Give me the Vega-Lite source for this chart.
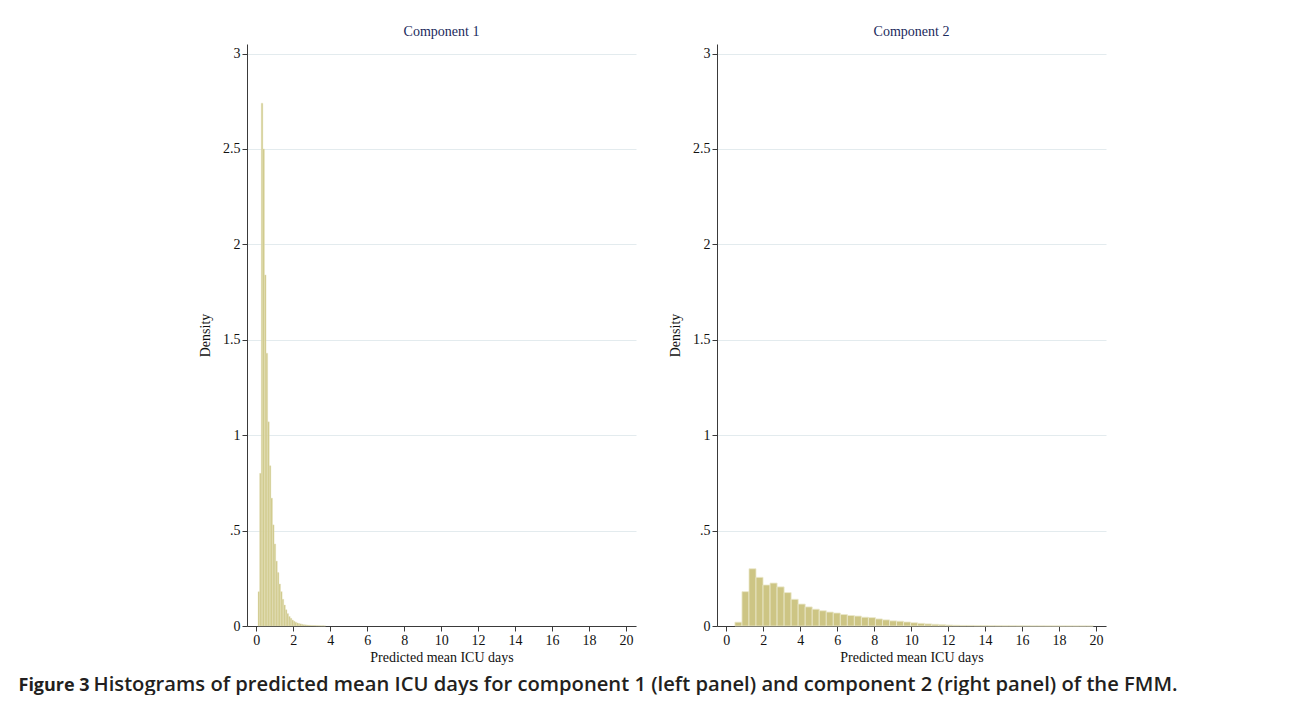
{
  "$schema": "https://vega.github.io/schema/vega-lite/v6.json",
  "background": "white",
  "padding": {"left": 18, "top": 25, "right": 0, "bottom": 0},
  "datasets": {
    "c1": [
      {"lo": 0.096, "hi": 0.183, "density": 0.18},
      {"lo": 0.183, "hi": 0.270, "density": 0.80},
      {"lo": 0.270, "hi": 0.357, "density": 2.74},
      {"lo": 0.357, "hi": 0.444, "density": 2.50},
      {"lo": 0.444, "hi": 0.531, "density": 1.84},
      {"lo": 0.531, "hi": 0.618, "density": 1.43},
      {"lo": 0.618, "hi": 0.705, "density": 1.07},
      {"lo": 0.705, "hi": 0.792, "density": 0.84},
      {"lo": 0.792, "hi": 0.879, "density": 0.67},
      {"lo": 0.879, "hi": 0.966, "density": 0.53},
      {"lo": 0.966, "hi": 1.053, "density": 0.43},
      {"lo": 1.053, "hi": 1.140, "density": 0.34},
      {"lo": 1.140, "hi": 1.227, "density": 0.28},
      {"lo": 1.227, "hi": 1.314, "density": 0.22},
      {"lo": 1.314, "hi": 1.401, "density": 0.18},
      {"lo": 1.401, "hi": 1.488, "density": 0.14},
      {"lo": 1.488, "hi": 1.575, "density": 0.11},
      {"lo": 1.575, "hi": 1.662, "density": 0.085},
      {"lo": 1.662, "hi": 1.749, "density": 0.065},
      {"lo": 1.749, "hi": 1.836, "density": 0.05},
      {"lo": 1.836, "hi": 1.923, "density": 0.04},
      {"lo": 1.923, "hi": 2.010, "density": 0.031},
      {"lo": 2.010, "hi": 2.097, "density": 0.025},
      {"lo": 2.097, "hi": 2.184, "density": 0.02},
      {"lo": 2.184, "hi": 2.271, "density": 0.016},
      {"lo": 2.271, "hi": 2.358, "density": 0.013},
      {"lo": 2.358, "hi": 2.445, "density": 0.011},
      {"lo": 2.445, "hi": 2.532, "density": 0.009},
      {"lo": 2.532, "hi": 2.619, "density": 0.007},
      {"lo": 2.619, "hi": 2.706, "density": 0.006},
      {"lo": 2.706, "hi": 2.793, "density": 0.005},
      {"lo": 2.793, "hi": 2.880, "density": 0.004},
      {"lo": 2.880, "hi": 2.967, "density": 0.0035},
      {"lo": 2.967, "hi": 3.054, "density": 0.003},
      {"lo": 3.054, "hi": 3.141, "density": 0.0025},
      {"lo": 3.141, "hi": 3.228, "density": 0.002},
      {"lo": 3.228, "hi": 3.315, "density": 0.0018},
      {"lo": 3.315, "hi": 3.402, "density": 0.0015},
      {"lo": 3.402, "hi": 3.489, "density": 0.0012},
      {"lo": 3.489, "hi": 3.576, "density": 0.001},
      {"lo": 3.576, "hi": 3.663, "density": 0.0008},
      {"lo": 3.663, "hi": 3.750, "density": 0.0006}
    ],
    "c2": [
      {"lo": 0.47, "hi": 0.85, "density": 0.02},
      {"lo": 0.85, "hi": 1.23, "density": 0.18},
      {"lo": 1.23, "hi": 1.61, "density": 0.30},
      {"lo": 1.61, "hi": 1.99, "density": 0.255},
      {"lo": 1.99, "hi": 2.37, "density": 0.215},
      {"lo": 2.37, "hi": 2.75, "density": 0.225},
      {"lo": 2.75, "hi": 3.13, "density": 0.205},
      {"lo": 3.13, "hi": 3.51, "density": 0.175},
      {"lo": 3.51, "hi": 3.89, "density": 0.14},
      {"lo": 3.89, "hi": 4.27, "density": 0.115},
      {"lo": 4.27, "hi": 4.65, "density": 0.10},
      {"lo": 4.65, "hi": 5.03, "density": 0.088},
      {"lo": 5.03, "hi": 5.41, "density": 0.08},
      {"lo": 5.41, "hi": 5.79, "density": 0.073},
      {"lo": 5.79, "hi": 6.17, "density": 0.068},
      {"lo": 6.17, "hi": 6.55, "density": 0.06},
      {"lo": 6.55, "hi": 6.93, "density": 0.055},
      {"lo": 6.93, "hi": 7.31, "density": 0.052},
      {"lo": 7.31, "hi": 7.69, "density": 0.046},
      {"lo": 7.69, "hi": 8.07, "density": 0.044},
      {"lo": 8.07, "hi": 8.45, "density": 0.037},
      {"lo": 8.45, "hi": 8.83, "density": 0.032},
      {"lo": 8.83, "hi": 9.21, "density": 0.027},
      {"lo": 9.21, "hi": 9.59, "density": 0.025},
      {"lo": 9.59, "hi": 9.97, "density": 0.021},
      {"lo": 9.97, "hi": 10.35, "density": 0.017},
      {"lo": 10.35, "hi": 10.73, "density": 0.014},
      {"lo": 10.73, "hi": 11.11, "density": 0.011},
      {"lo": 11.11, "hi": 11.49, "density": 0.009},
      {"lo": 11.49, "hi": 11.87, "density": 0.007},
      {"lo": 11.87, "hi": 12.25, "density": 0.005},
      {"lo": 12.25, "hi": 12.63, "density": 0.004},
      {"lo": 12.63, "hi": 13.01, "density": 0.003},
      {"lo": 13.01, "hi": 13.39, "density": 0.003},
      {"lo": 13.39, "hi": 13.77, "density": 0.002},
      {"lo": 13.77, "hi": 14.15, "density": 0.002},
      {"lo": 14.15, "hi": 14.53, "density": 0.0015},
      {"lo": 14.53, "hi": 14.91, "density": 0.0012},
      {"lo": 14.91, "hi": 15.29, "density": 0.001},
      {"lo": 15.29, "hi": 15.67, "density": 0.001},
      {"lo": 15.67, "hi": 16.05, "density": 0.0008},
      {"lo": 16.05, "hi": 16.43, "density": 0.0007},
      {"lo": 16.43, "hi": 16.81, "density": 0.0006},
      {"lo": 16.81, "hi": 17.19, "density": 0.0005},
      {"lo": 17.19, "hi": 17.57, "density": 0.0004},
      {"lo": 17.57, "hi": 17.95, "density": 0.0004},
      {"lo": 17.95, "hi": 18.33, "density": 0.0003},
      {"lo": 18.33, "hi": 18.71, "density": 0.0003},
      {"lo": 18.71, "hi": 19.09, "density": 0.0002},
      {"lo": 19.09, "hi": 19.47, "density": 0.0002},
      {"lo": 19.47, "hi": 19.85, "density": 0.0002}
    ]
  },
  "spacing": 10,
  "vconcat": [
    {
      "spacing": 32,
      "hconcat": [
        {
          "width": 389,
          "height": 582,
          "title": {"text": "Component 1"},
          "data": {"name": "c1"},
          "mark": {"type": "rect", "fill": "#cfc888", "stroke": "#e6e2c0", "strokeWidth": 0.4},
          "encoding": {
            "x": {
              "field": "lo", "type": "quantitative",
              "scale": {"domain": [-0.5, 20.54], "nice": false, "zero": false},
              "axis": {"values": [0, 2, 4, 6, 8, 10, 12, 14, 16, 18, 20], "title": "Predicted mean ICU days"}
            },
            "x2": {"field": "hi"},
            "y": {
              "field": "density", "type": "quantitative",
              "scale": {"domain": [0, 3.05], "nice": false},
              "axis": {"values": [0, 0.5, 1, 1.5, 2, 2.5, 3], "title": "Density", "labelExpr": "datum.value == 0.5 ? '.5' : '' + datum.value"}
            },
            "y2": {"datum": 0}
          }
        },
        {
          "width": 389,
          "height": 582,
          "title": {"text": "Component 2"},
          "data": {"name": "c2"},
          "mark": {"type": "rect", "fill": "#cdc584", "stroke": "#ebe8cc", "strokeWidth": 0.8},
          "encoding": {
            "x": {
              "field": "lo", "type": "quantitative",
              "scale": {"domain": [-0.5, 20.54], "nice": false, "zero": false},
              "axis": {"values": [0, 2, 4, 6, 8, 10, 12, 14, 16, 18, 20], "title": "Predicted mean ICU days"}
            },
            "x2": {"field": "hi"},
            "y": {
              "field": "density", "type": "quantitative",
              "scale": {"domain": [0, 3.05], "nice": false},
              "axis": {"values": [0, 0.5, 1, 1.5, 2, 2.5, 3], "title": "Density", "labelExpr": "datum.value == 0.5 ? '.5' : '' + datum.value"}
            },
            "y2": {"datum": 0}
          }
        }
      ]
    },
    {
      "width": 908,
      "height": 1,
      "data": {"values": [{"v": 0}]},
      "mark": {"type": "text", "text": ""},
      "encoding": {
        "x": {
          "field": "v", "type": "quantitative",
          "scale": {"domain": [0, 1]},
          "axis": {
            "orient": "bottom", "domain": false, "ticks": false, "labels": false, "grid": false,
            "title": "Histograms of predicted mean ICU days for component 1 (left panel) and component 2 (right panel) of the FMM.",
            "titleX": -154, "titleY": 0, "titleAlign": "left", "titleAngle": 0, "titleBaseline": "alphabetic",
            "titleFont": "Open Sans", "titleFontSize": 20.2, "titleFontWeight": 600, "titleColor": "#231f20"
          }
        },
        "y": {
          "field": "v", "type": "quantitative",
          "scale": {"domain": [0, 1]},
          "axis": {
            "orient": "left", "domain": false, "ticks": false, "labels": false, "grid": false,
            "title": "Figure 3",
            "titleAngle": 0, "titleX": -229, "titleY": 1, "titleAlign": "left", "titleBaseline": "alphabetic",
            "titleFont": "Open Sans", "titleFontSize": 18, "titleFontWeight": "bold", "titleColor": "#231f20"
          }
        }
      }
    }
  ],
  "config": {
    "font": "Liberation Serif",
    "view": {"stroke": null},
    "axis": {
      "domainColor": "#3a3a3a", "domainWidth": 1, "tickColor": "#3a3a3a", "tickSize": 5, "tickWidth": 1,
      "labelFont": "Liberation Serif", "labelFontSize": 14, "labelColor": "#111111",
      "titleFont": "Liberation Serif", "titleFontSize": 14, "titleFontWeight": "normal", "titleColor": "#111111",
      "grid": false
    },
    "axisY": {"grid": true, "gridColor": "#e3ebee", "gridWidth": 1, "labelPadding": 2, "titlePadding": 10},
    "axisX": {"labelPadding": 2, "titlePadding": 3},
    "title": {"font": "Liberation Serif", "fontSize": 14, "fontWeight": "normal", "color": "#1b2a5c", "anchor": "middle", "offset": 5}
  }
}
